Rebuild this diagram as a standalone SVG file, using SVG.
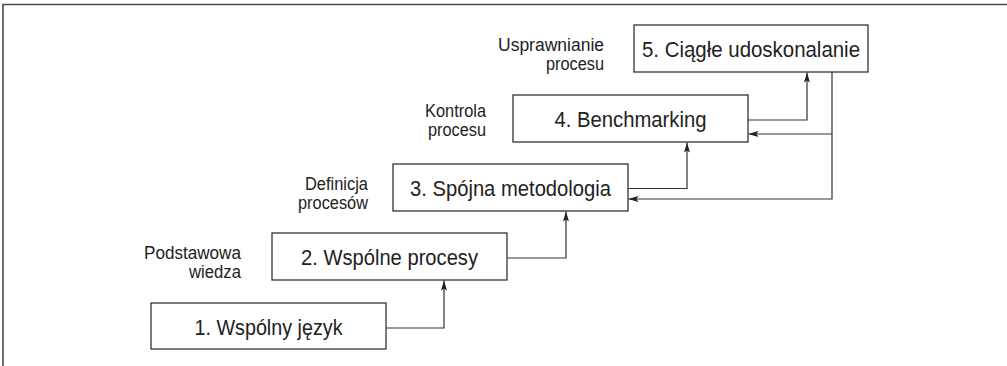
<svg xmlns="http://www.w3.org/2000/svg" width="1007" height="366" viewBox="0 0 1007 366">
  <style>
    .frame { fill: none; stroke: #4a4a4a; stroke-width: 1.6; }
    .box { fill: #fff; stroke: #333; stroke-width: 1.3; }
    .title { font-family: "Liberation Sans", Arial, sans-serif; font-size: 22px; fill: #222; text-anchor: middle; }
    .label { font-family: "Liberation Sans", Arial, sans-serif; font-size: 17.5px; fill: #222; text-anchor: end; }
    .wire { fill: none; stroke: #333; stroke-width: 1.2; }
  </style>
  <defs>
    <marker id="arrow" viewBox="0 0 10 6" refX="10" refY="3" markerWidth="10" markerHeight="6" markerUnits="userSpaceOnUse" orient="auto">
      <path d="M0,0 L10,3 L0,6 L2,3 Z" fill="#222"/>
    </marker>
  </defs>

  <!-- outer frame: top and left edges only -->
  <path class="frame" d="M3,366 V4.5 H1007"/>

  <g id="step1">
    <rect class="box" x="151" y="303" width="235" height="46"/>
    <text class="title" x="268.5" y="334.5" textLength="148" lengthAdjust="spacingAndGlyphs">1. Wspólny język</text>
  </g>

  <g id="step2">
    <rect class="box" x="272" y="233" width="235" height="47"/>
    <text class="title" x="389.5" y="264.5" textLength="177" lengthAdjust="spacingAndGlyphs">2. Wspólne procesy</text>
    <text class="label" x="241" y="259" textLength="97" lengthAdjust="spacingAndGlyphs">Podstawowa</text>
    <text class="label" x="241" y="278" textLength="52" lengthAdjust="spacingAndGlyphs">wiedza</text>
  </g>

  <g id="step3">
    <rect class="box" x="393" y="164" width="235" height="47"/>
    <text class="title" x="510.5" y="195.5" textLength="201" lengthAdjust="spacingAndGlyphs">3. Spójna metodologia</text>
    <text class="label" x="368" y="190" textLength="63" lengthAdjust="spacingAndGlyphs">Definicja</text>
    <text class="label" x="368" y="209" textLength="70" lengthAdjust="spacingAndGlyphs">procesów</text>
  </g>

  <g id="step4">
    <rect class="box" x="513" y="95" width="235" height="47"/>
    <text class="title" x="630.5" y="126.5" textLength="152" lengthAdjust="spacingAndGlyphs">4. Benchmarking</text>
    <text class="label" x="486" y="117" textLength="61" lengthAdjust="spacingAndGlyphs">Kontrola</text>
    <text class="label" x="486" y="136" textLength="58" lengthAdjust="spacingAndGlyphs">procesu</text>
  </g>

  <g id="step5">
    <rect class="box" x="634" y="25" width="234" height="47"/>
    <text class="title" x="751" y="56.5" textLength="218" lengthAdjust="spacingAndGlyphs">5. Ciągłe udoskonalanie</text>
    <text class="label" x="604" y="51" textLength="106" lengthAdjust="spacingAndGlyphs">Usprawnianie</text>
    <text class="label" x="604" y="70" textLength="58" lengthAdjust="spacingAndGlyphs">procesu</text>
  </g>

  <g id="connectors">
    <!-- step-up links -->
    <path class="wire" d="M386,328 H444 V280.5" marker-end="url(#arrow)"/>
    <path class="wire" d="M507,258 H566 V211.5" marker-end="url(#arrow)"/>
    <path class="wire" d="M628,188.5 H687 V142.5" marker-end="url(#arrow)"/>
    <path class="wire" d="M748,120 H807 V72.5" marker-end="url(#arrow)"/>
    <!-- feedback from continuous improvement -->
    <path class="wire" d="M832,72 V199 H628.5" marker-end="url(#arrow)"/>
    <path class="wire" d="M832,134 H748.5" marker-end="url(#arrow)"/>
  </g>
</svg>
